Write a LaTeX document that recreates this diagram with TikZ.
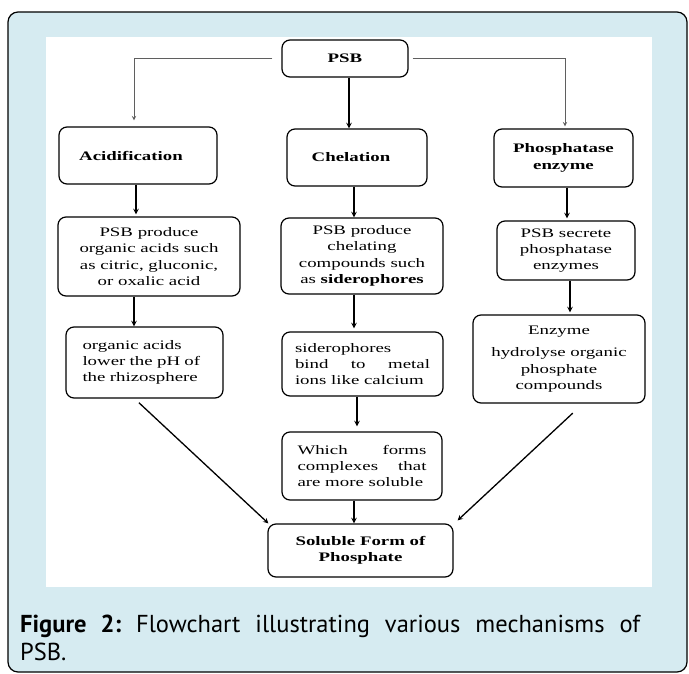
\documentclass[tikz,border=0pt]{standalone}
\usepackage{fontspec}
\setmainfont{PT Sans}
\newfontfamily\boxfont[FakeStretch=1.45]{Liberation Serif}
\usetikzlibrary{positioning, arrows}
\definecolor{panelblue}{RGB}{214,235,241}
\definecolor{edgegray}{RGB}{95,95,95}
\hyphenpenalty=10000
\tolerance=10000
\frenchspacing
\tikzset{
	>=stealth, % small solid arrow heads
	x=1pt, y=-1pt, % one unit is one pixel, y runs downwards
	box/.style={draw, rounded corners=8pt, line width=1.2pt, fill=white, inner sep=3pt, align=center, font=\boxfont\fontsize{13}{16.3}\selectfont}, % every step of the chart
	boldbox/.style={box, font=\boxfont\bfseries\fontsize{13}{16.3}\selectfont}, % headings
	flow/.style={->, line width=1.5pt}, % straight downward arrows
	branch/.style={->, line width=1pt, draw=edgegray}, % arrows leaving PSB sideways
	slant/.style={->, line width=1.3pt}, % arrows into the last box
}
\begin{document}
\begin{tikzpicture}
	\useasboundingbox (0,0) rectangle (689,673);
	\draw[line width=1.2pt, fill=panelblue, rounded corners=10pt] (8,12) rectangle (687,672);
	\fill[white] (46,37) rectangle (652,587);

			\node[boldbox, minimum width=126, minimum height=37] (psb) at (345,58.5) {PSB};
			\node[boldbox, minimum width=158, minimum height=57] (acid) at (138,155.5) {Acidification\hspace*{14pt}};
			\node[boldbox, minimum width=140, minimum height=57] (chel) at (357,157.5) {Chelation\hspace*{12pt}};
			\node[boldbox, minimum width=139, minimum height=58] (phos) at (563.5,158) {Phosphatase\\enzyme};
			\node[box, minimum width=182, minimum height=79] (prodacid) at (149,256.5) {PSB produce\\organic acids such\\as citric, gluconic,\\or oxalic acid};
			\node[box, minimum width=162, minimum height=76] (prodchel) at (362,256) {PSB produce\\chelating\\compounds such\\as \textbf{siderophores}};
			\node[box, minimum width=138, minimum height=59] (secrete) at (566,250.5) {PSB secrete\\phosphatase\\enzymes};
			\node[box, align=left, text width=124, minimum width=157, minimum height=71] (lowerph) at (144.5,362.5) {organic acids\\lower the pH of\\the rhizosphere};
			\node[box, align=justify, text width=135, minimum width=161, minimum height=64] (bind) at (362.5,364) {siderophores\newline bind to metal\linebreak ions like calcium};
			\node[box, minimum width=172, minimum height=88] (hydro) at (559,359) {Enzyme\\[6pt]hydrolyse organic\\phosphate\\compounds};
			\node[box, align=justify, text width=129, minimum width=160, minimum height=68] (complex) at (362,466) {Which forms\linebreak complexes that\linebreak are more soluble};
			\node[boldbox, minimum width=185, minimum height=53] (soluble) at (360.5,550.5) {Soluble Form of\\Phosphate};
			\node[anchor=north west, inner sep=0pt, text width=620, align=justify, font=\fontsize{24.5}{28}\selectfont] (caption) at (20,614.5) {\textbf{Figure 2:} Flowchart illustrating various mechanisms of\linebreak PSB.};

	\draw[branch, shorten <=9pt, shorten >=6pt] (psb.west) -| ([xshift=-4pt]acid.north);
	\draw[branch, shorten <=4pt, shorten >=2pt] (psb.east) -| ([xshift=1.5pt]phos.north);
	\draw[flow] ([xshift=4pt]psb.south) -- ([xshift=4pt]psb.south |- chel.north);
	\draw[flow, shorten >=2pt] ([xshift=-2pt]acid.south) -- ([xshift=-2pt]acid.south |- prodacid.north);
	\draw[flow] ([xshift=-3pt]chel.south) -- ([xshift=-3pt]chel.south |- prodchel.north);
	\draw[flow, shorten >=2pt] ([xshift=3.5pt]phos.south) -- ([xshift=3.5pt]phos.south |- secrete.north);
	\draw[flow] ([xshift=-15pt]prodacid.south) -- ([xshift=-15pt]prodacid.south |- lowerph.north);
	\draw[flow, shorten >=3pt] ([xshift=-8pt]prodchel.south) -- ([xshift=-8pt]prodchel.south |- bind.north);
	\draw[flow, shorten >=2pt] ([xshift=4pt]secrete.south) -- ([xshift=4pt]secrete.south |- hydro.north);
	\draw[flow, shorten >=5pt] ([xshift=-5.5pt]bind.south) -- ([xshift=-5.5pt]bind.south |- complex.north);
	\draw[flow] ([xshift=-8pt]complex.south) -- ([xshift=-8pt]complex.south |- soluble.north);
	\draw[slant, shorten <=6pt] ([xshift=-10pt]lowerph.south) -- ([xshift=1pt]soluble.north west);
	\draw[slant, shorten <=14pt] ([xshift=24pt]hydro.south) -- ([xshift=4pt,yshift=3pt]soluble.north east);
\end{tikzpicture}
\end{document}
